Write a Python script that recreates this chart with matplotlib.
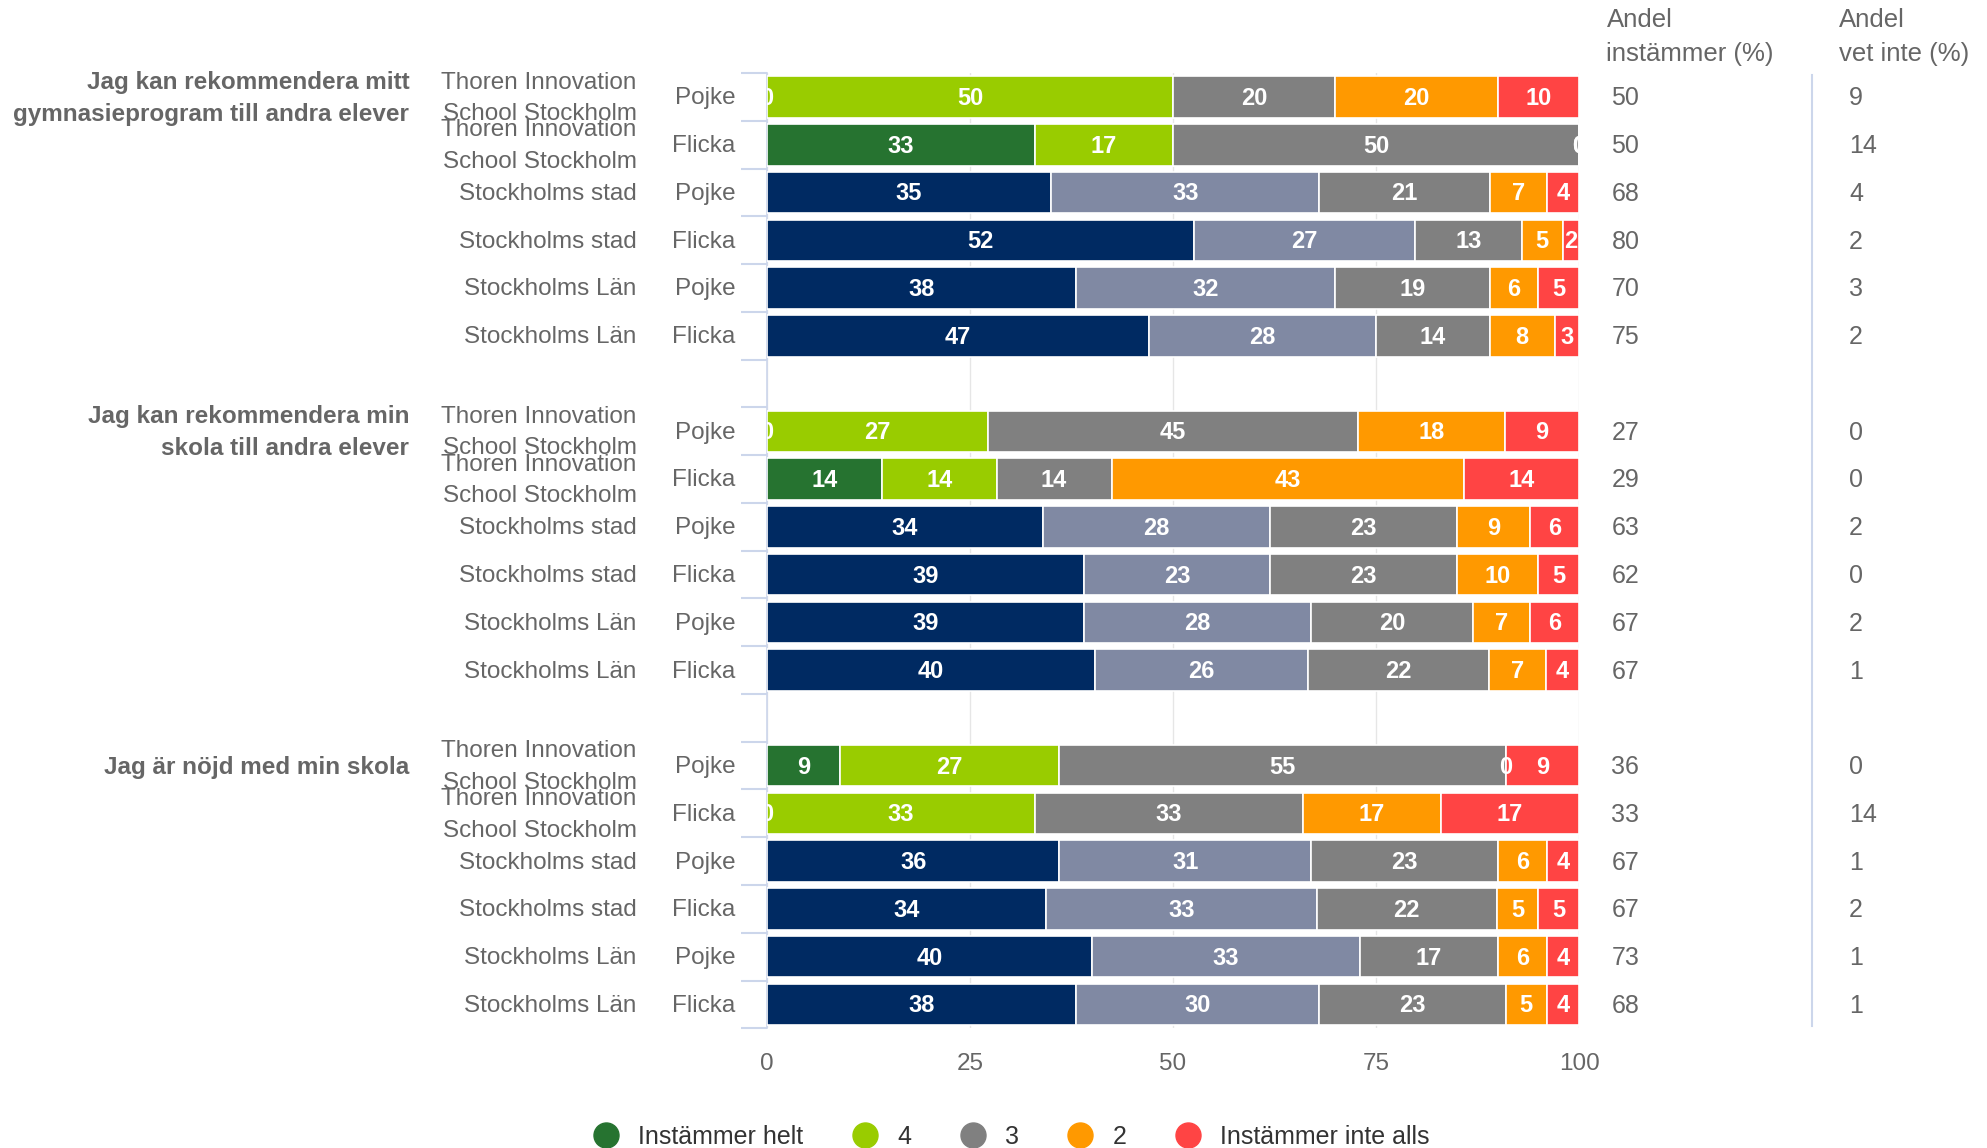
import numpy as np
import matplotlib
matplotlib.use("Agg")
import matplotlib.pyplot as plt
from matplotlib.lines import Line2D
from matplotlib.transforms import blended_transform_factory

plt.rcParams['font.family'] = ['Liberation Sans Narrow', 'Liberation Sans', 'DejaVu Sans']

# questions (one group of bars each)
questions = ["Jag kan rekommendera mitt\ngymnasieprogram till andra elever",
             "Jag kan rekommendera min\nskola till andra elever",
             "Jag är nöjd med min skola"]
schools = ["Thoren Innovation\nSchool Stockholm", "Thoren Innovation\nSchool Stockholm",
           "Stockholms stad", "Stockholms stad", "Stockholms Län", "Stockholms Län"]
genders = ["Pojke", "Flicka", "Pojke", "Flicka", "Pojke", "Flicka"]

legend_labels = ["Instämmer helt", "4", "3", "2", "Instämmer inte alls"]

# answer shares (%) per bar, order: helt, 4, 3, 2, inte alls
q1 = [[0, 50, 20, 20, 10],
      [33, 17, 50, 0, 0],
      [35, 33, 21, 7, 4],
      [52, 27, 13, 5, 2],
      [38, 32, 19, 6, 5],
      [47, 28, 14, 8, 3]]
q2 = [[0, 27, 45, 18, 9],
      [14, 14, 14, 43, 14],
      [34, 28, 23, 9, 6],
      [39, 23, 23, 10, 5],
      [39, 28, 20, 7, 6],
      [40, 26, 22, 7, 4]]
q3 = [[9, 27, 55, 0, 9],
      [0, 33, 33, 17, 17],
      [36, 31, 23, 6, 4],
      [34, 33, 22, 5, 5],
      [40, 33, 17, 6, 4],
      [38, 30, 23, 5, 4]]

andel_instammer = [[50, 50, 68, 80, 70, 75],
                   [27, 29, 63, 62, 67, 67],
                   [36, 33, 67, 67, 73, 68]]
andel_vet_inte = [[9, 14, 4, 2, 3, 2],
                  [0, 0, 2, 0, 2, 1],
                  [0, 14, 1, 2, 1, 1]]

green_cols = ["#267330", "#99cc00", "#808080", "#ff9900", "#ff4444"]
blue_cols = ["#002a62", "#8089a3", "#808080", "#ff9900", "#ff4444"]
grey_txt = "#666666"
axis_col = "#ccd6eb"

fig = plt.figure(figsize=(19.87, 11.48), dpi=100)
ax = fig.add_axes([0.386, 0.1043, 0.4087, 0.8320])

data = [q1, q2, q3]
fs = 17.5
fs_bar = 17
fs_right = 18

for g, q in enumerate(data):
    for i, row in enumerate(q):
        y = g * 7 + i
        vals = np.array(row, dtype=float)
        vals = vals / vals.sum() * 100
        cols = green_cols if i < 2 else blue_cols
        left = 0
        for k, v in enumerate(vals):
            ax.barh(y, v, left=left, height=0.87, color=cols[k],
                    edgecolor="white", linewidth=1.2, zorder=3)
            ax.text(left + v / 2, y + 0.03, str(row[k]), ha="center", va="center",
                    color="white", fontsize=fs_bar, fontweight="bold", zorder=4,
                    clip_on=True)
            left += v

ax.set_xlim(0, 100)
ax.set_ylim(19.5, -0.5)
ax.set_xticks([0, 25, 50, 75, 100])
ax.tick_params(axis="x", length=0, pad=18, labelsize=fs, labelcolor=grey_txt)
ax.set_yticks(np.arange(-0.5, 20, 1))
ax.set_yticklabels([])
ax.tick_params(axis="y", length=19, width=1.5, color=axis_col)
ax.grid(axis="x", color="#e6e6e6", linewidth=1, zorder=0)
for s in ["top", "right", "bottom"]:
    ax.spines[s].set_visible(False)
ax.spines["left"].set_color(axis_col)
ax.spines["left"].set_linewidth(1.2)

tr = blended_transform_factory(fig.transFigure, ax.transData)
for g in range(3):
    for i in range(6):
        y = g * 7 + i + 0.03
        ax.text(0.370, y, genders[i], transform=tr, ha="right", va="center",
                fontsize=fs, color=grey_txt)
        lines = schools[i].split("\n")
        if len(lines) == 2:
            ax.text(0.3205, y - 0.33, lines[0], transform=tr, ha="right",
                    va="center", fontsize=fs, color=grey_txt)
            ax.text(0.3205, y + 0.33, lines[1], transform=tr, ha="right",
                    va="center", fontsize=fs, color=grey_txt)
        else:
            ax.text(0.3205, y, schools[i], transform=tr, ha="right",
                    va="center", fontsize=fs, color=grey_txt)
        ax.text(0.811, y, str(andel_instammer[g][i]), transform=tr,
                ha="left", va="center", fontsize=fs_right, color=grey_txt,
                family="Liberation Sans")
        ax.text(0.9305, y, str(andel_vet_inte[g][i]), transform=tr,
                ha="left", va="center", fontsize=fs_right, color=grey_txt,
                family="Liberation Sans")
    qlines = questions[g].split("\n")
    y0 = g * 7 + 0.03
    if len(qlines) == 2:
        ax.text(0.206, y0 - 0.33, qlines[0], transform=tr, ha="right", va="center",
                fontsize=fs, fontweight="bold", color=grey_txt)
        ax.text(0.206, y0 + 0.33, qlines[1], transform=tr, ha="right", va="center",
                fontsize=fs, fontweight="bold", color=grey_txt)
    else:
        ax.text(0.206, y0, questions[g], transform=tr, ha="right", va="center",
                fontsize=fs, fontweight="bold", color=grey_txt)

# column headers
fig.text(0.8085, 0.993, "Andel\ninstämmer (%)", ha="left", va="top",
         fontsize=fs_right + 0.5, color=grey_txt, family="Liberation Sans",
         linespacing=1.5)
fig.text(0.9255, 0.993, "Andel\nvet inte (%)", ha="left", va="top",
         fontsize=fs_right + 0.5, color=grey_txt, family="Liberation Sans",
         linespacing=1.5)
fig.add_artist(Line2D([0.912, 0.912], [0.1065, 0.935], transform=fig.transFigure,
                      color=axis_col, linewidth=1.5))

handles = [Line2D([], [], marker="o", linestyle="", markersize=18,
                  markerfacecolor=c, markeredgecolor=c) for c in green_cols]
fig.legend(handles, legend_labels, loc="center", bbox_to_anchor=(0.506, 0.010),
           ncol=5, frameon=False, fontsize=fs + 0.5, labelcolor="#333333",
           handletextpad=0.3, columnspacing=1.45)

fig.savefig("out.png", dpi=100)
